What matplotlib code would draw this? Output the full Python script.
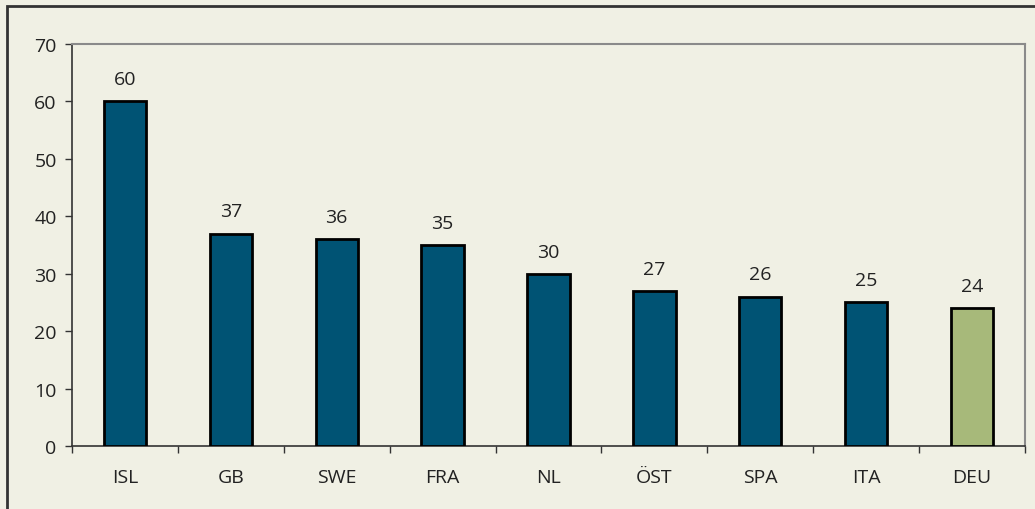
import numpy as np
import matplotlib
matplotlib.use("Agg")
from matplotlib import pyplot as plt
from matplotlib.patches import Rectangle

countries = ["ISL", "GB", "SWE", "FRA", "NL", "ÖST", "SPA", "ITA", "DEU"]
values = [60, 37, 36, 35, 30, 27, 26, 25, 24]
bar_colors = ["#005374"] * 8 + ["#a7b97a"]

plt.rcParams['font.family'] = ['Open Sans', 'DejaVu Sans']

bg = "#f0f0e4"
fs = 14
fig = plt.figure(figsize=(10.35, 5.10), dpi=100, facecolor=bg)
ax = fig.add_axes([72/1035, 1 - 447/510, (1025 - 72)/1035, (447 - 45)/510])
ax.set_facecolor(bg)

x = np.arange(len(countries))
ax.bar(x, values, width=0.4, color=bar_colors, edgecolor="black", linewidth=2, zorder=3)

for xi, v in zip(x, values):
    ax.text(xi, v + 2.3, str(v), ha="center", va="bottom", fontsize=fs, color="#222222")

ax.set_xlim(-0.5, len(countries) - 0.5)
ax.set_ylim(0, 70)
ax.set_yticks(range(0, 71, 10))
ax.tick_params(axis="y", labelsize=fs, labelcolor="#222222", length=5, width=1, color="#333333", pad=6)

ax.set_xticks(x)
ax.set_xticklabels(countries)
ax.tick_params(axis="x", which="major", length=0, labelsize=fs, labelcolor="#222222", pad=16)
ax.set_xticks(np.arange(-0.5, len(countries), 1), minor=True)
ax.tick_params(axis="x", which="minor", length=5, width=1, color="#333333")

ax.spines["left"].set_color("#333333")
ax.spines["bottom"].set_color("#333333")
ax.spines["left"].set_linewidth(1.2)
ax.spines["bottom"].set_linewidth(1.2)
ax.spines["top"].set_color("#8a8a8a")
ax.spines["right"].set_color("#8a8a8a")
ax.spines["top"].set_linewidth(1.5)
ax.spines["right"].set_linewidth(1.5)

# outer frame (only left/top visible in the crop)
fig.patches.append(Rectangle((7/1035, -0.1), 1.2, 1 - 7/510 + 0.1, transform=fig.transFigure,
                             fill=False, edgecolor="#333333", linewidth=2))

fig.savefig("out.png", dpi=100, facecolor=bg)
